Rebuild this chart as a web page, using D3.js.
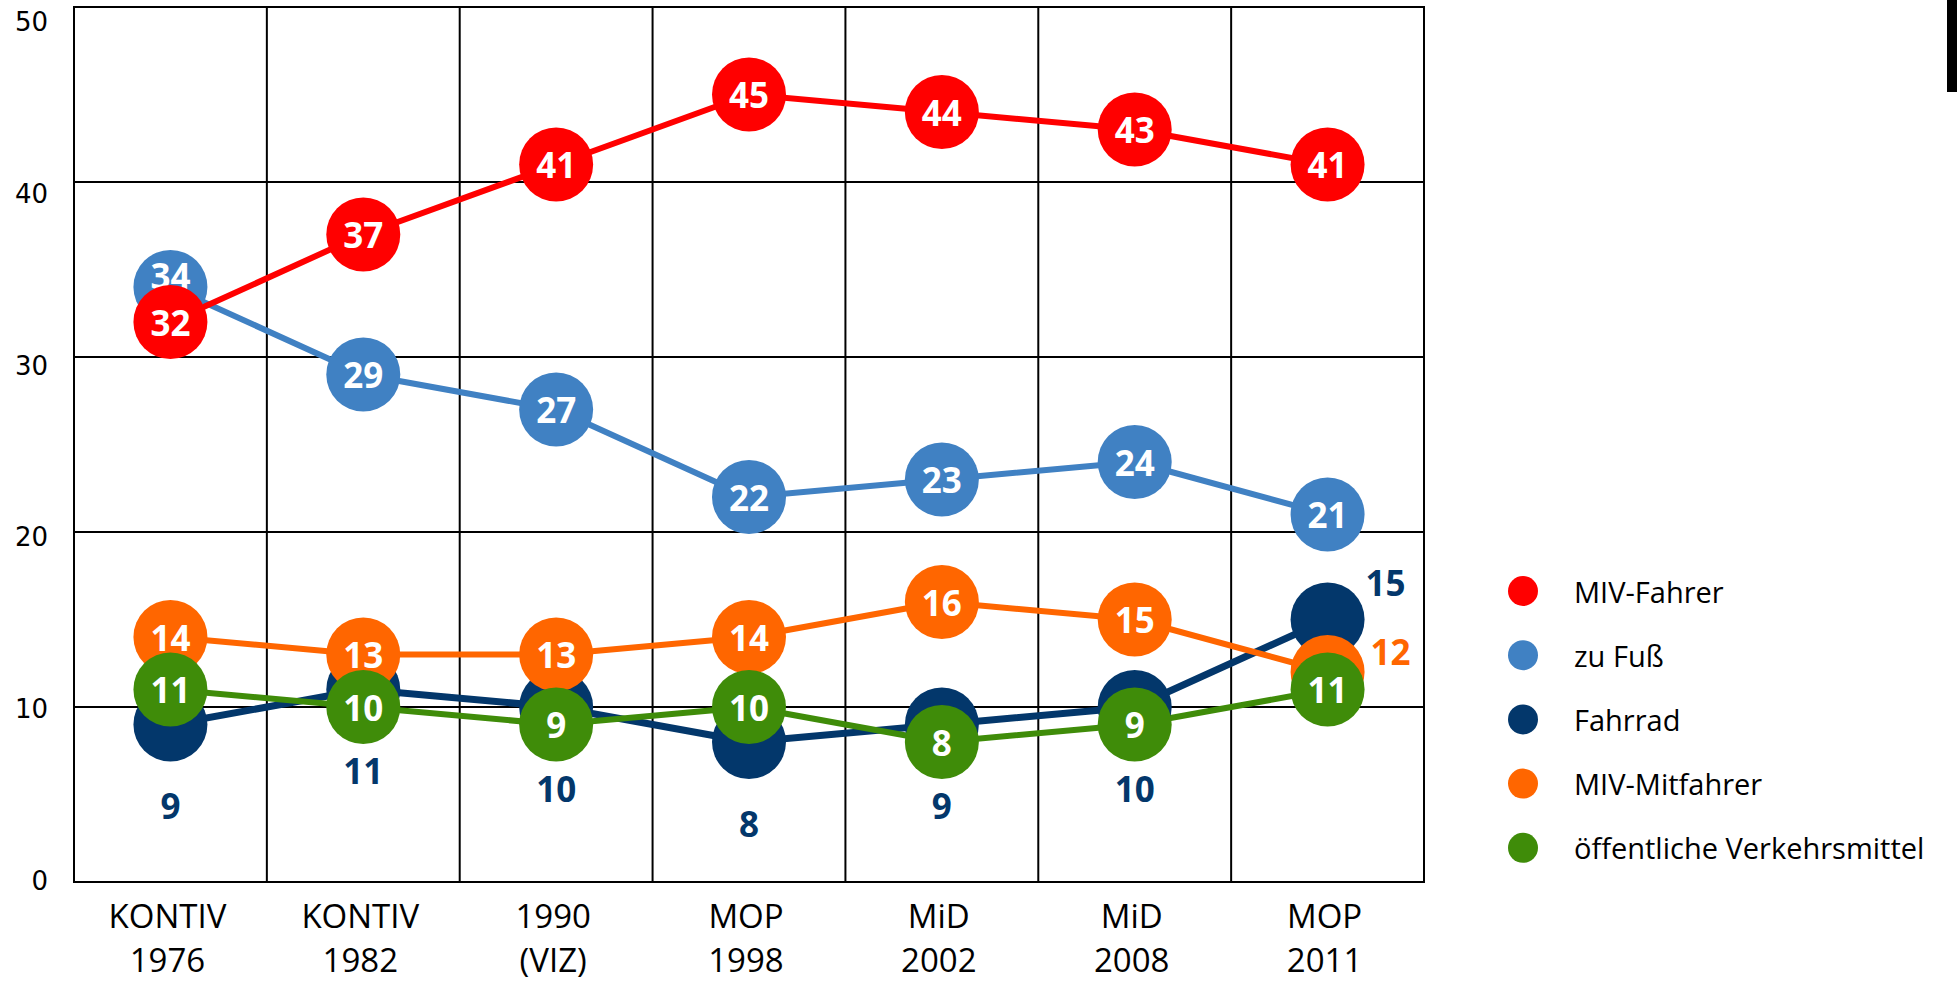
<!DOCTYPE html>
<html>
<head>
<meta charset="utf-8">
<script src="https://cdn.jsdelivr.net/npm/d3@7"></script>
<style>
  body { margin: 0; background: #fff; }
  svg { display: block; }
</style>
</head>
<body>
<svg id="chart" width="1957" height="981"></svg>
<script>
// surveys on the x axis (two text lines each)
let surveys = ["KONTIV 1976", "KONTIV 1982", "1990 (VIZ)", "MOP 1998", "MiD 2002", "MiD 2008", "MOP 2011"];
let surveyLine1 = ["KONTIV", "KONTIV", "1990", "MOP", "MiD", "MiD", "MOP"];
let surveyLine2 = ["1976", "1982", "(VIZ)", "1998", "2002", "2008", "2011"];
let yTicks = [0, 10, 20, 30, 40, 50];

// shares in percent
let mivFahrer = [32, 37, 41, 45, 44, 43, 41];
let zuFuss = [34, 29, 27, 22, 23, 24, 21];
let fahrrad = [9, 11, 10, 8, 9, 10, 15];
let mivMitfahrer = [14, 13, 13, 14, 16, 15, 12];
let oepnv = [11, 10, 9, 10, 8, 9, 11];

let legendNames = ["MIV-Fahrer", "zu Fuß", "Fahrrad", "MIV-Mitfahrer", "öffentliche Verkehrsmittel"];

var colors = {
  "MIV-Fahrer": "#ff0000",
  "zu Fuß": "#4081c3",
  "Fahrrad": "#03376b",
  "MIV-Mitfahrer": "#ff6600",
  "öffentliche Verkehrsmittel": "#3f8c09"
};

// drawing order: last one ends on top
let series = [
  {name: "Fahrrad", values: fahrrad},
  {name: "MIV-Mitfahrer", values: mivMitfahrer},
  {name: "öffentliche Verkehrsmittel", values: oepnv},
  {name: "zu Fuß", values: zuFuss},
  {name: "MIV-Fahrer", values: mivFahrer}
];

let svg = d3.select("#chart");
let plot = {left: 74, right: 1424, top: 7, bottom: 882};
let labelFont = "'Open Sans', 'Noto Sans', sans-serif";

let x = d3.scaleBand()
  .domain(surveys)
  .range([plot.left, plot.right]);
let cx = function(i) { return x(surveys[i]) + x.bandwidth() / 2; };

let y = d3.scaleLinear()
  .domain([0, 50])
  .range([plot.bottom, plot.top]);

// tick labels sit a bit off the grid lines in the original
let yLabel = d3.scaleLinear()
  .domain([0, 50])
  .range([881, 22]);

// grid
let grid = svg.append("g").attr("id", "grid");
grid.selectAll("line.h")
  .data(yTicks)
  .enter().append("line")
  .attr("class", "h")
  .attr("x1", plot.left).attr("x2", plot.right)
  .attr("y1", d => y(d)).attr("y2", d => y(d))
  .attr("stroke", "#000").attr("stroke-width", 2);

let edges = surveys.map(s => x(s)).concat([plot.right]);
grid.selectAll("line.v")
  .data(edges)
  .enter().append("line")
  .attr("class", "v")
  .attr("x1", d => d).attr("x2", d => d)
  .attr("y1", plot.top - 1).attr("y2", plot.bottom + 1)
  .attr("stroke", "#000").attr("stroke-width", 2);

// y tick labels
svg.append("g").selectAll("text")
  .data(yTicks)
  .enter().append("text")
  .attr("x", 48)
  .attr("y", d => yLabel(d))
  .attr("text-anchor", "end")
  .attr("dominant-baseline", "central")
  .style("font-family", "'DejaVu Sans', sans-serif")
  .style("font-size", "26px")
  .text(d => d);

// x labels
let xl = svg.append("g");
surveys.forEach(function(s, i) {
  xl.append("text")
    .attr("x", cx(i) - 3).attr("y", 915)
    .attr("text-anchor", "middle").attr("dominant-baseline", "central")
    .style("font-family", labelFont).style("font-size", "33px")
    .text(surveyLine1[i]);
  xl.append("text")
    .attr("x", cx(i) - 3).attr("y", 959)
    .attr("text-anchor", "middle").attr("dominant-baseline", "central")
    .style("font-family", labelFont).style("font-size", "33px")
    .text(surveyLine2[i]);
});

// lines first
let line = d3.line()
  .x((d, i) => cx(i))
  .y(d => y(d));

svg.append("g").selectAll("path")
  .data(series)
  .enter().append("path")
  .attr("d", d => line(d.values))
  .attr("fill", "none")
  .attr("stroke", d => colors[d.name])
  .attr("stroke-width", d => d.name == "Fahrrad" ? 7 : 6)
  .attr("stroke-linejoin", "round");

// circles + labels
let r = 37;
series.forEach(function(s) {
  let g = svg.append("g");
  g.selectAll("circle")
    .data(s.values)
    .enter().append("circle")
    .attr("cx", (d, i) => cx(i))
    .attr("cy", d => y(d))
    .attr("r", r)
    .attr("fill", colors[s.name]);

  s.values.forEach(function(v, i) {
    let tx = cx(i), ty = y(v), fill = "#fff";
    if (s.name == "Fahrrad") {
      fill = colors[s.name];
      if (i == s.values.length - 1) { tx += 58; ty -= 37; }
      else { ty += 81; }
    } else if (s.name == "MIV-Mitfahrer" && i == s.values.length - 1) {
      fill = colors[s.name];
      tx += 63; ty -= 21;
    } else if (s.name == "zu Fuß" && i == 0) {
      ty -= 12;
    }
    let t = g.append("text")
      .attr("x", tx).attr("y", ty)
      .attr("text-anchor", "middle")
      .attr("dominant-baseline", "central")
      .style("font-family", labelFont)
      .style("font-size", "35px")
      .style("font-weight", "bold")
      .attr("fill", fill)
      .text(v);
    // outside labels must sit above every circle
    if (fill != "#fff") t.attr("class", "outside");
  });
});
svg.selectAll("text.outside").raise();

// legend
let legend = svg.append("g").attr("id", "legend");
legendNames.forEach(function(name, i) {
  let ly = 591 + i * 64.2;
  legend.append("circle")
    .attr("cx", 1523).attr("cy", ly).attr("r", 15)
    .attr("fill", colors[name]);
  legend.append("text")
    .attr("x", 1574).attr("y", ly)
    .attr("dominant-baseline", "central")
    .style("font-family", labelFont).style("font-size", "29px")
    .text(name);
});

// little black bar in the top right corner
svg.append("rect")
  .attr("x", 1947).attr("y", 0)
  .attr("width", 10).attr("height", 92)
  .attr("fill", "#000");
</script>
</body>
</html>
